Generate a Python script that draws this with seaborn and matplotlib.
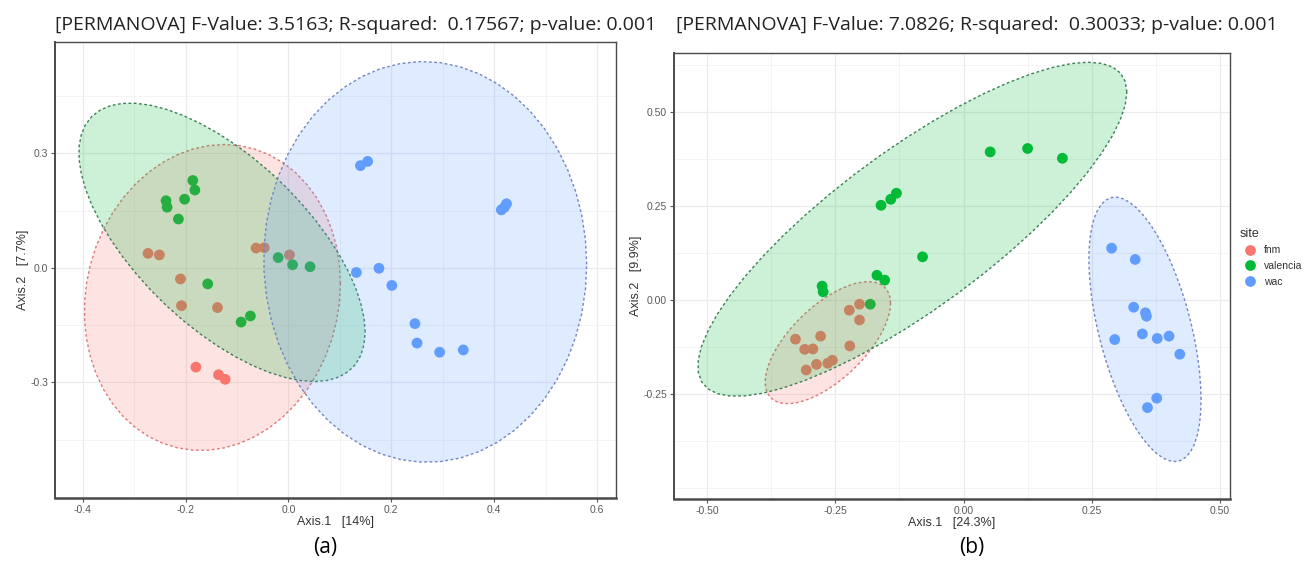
import numpy as np
import pandas as pd
import matplotlib
matplotlib.use("Agg")
import matplotlib.pyplot as plt
import seaborn as sns
from matplotlib.patches import Polygon
from matplotlib.ticker import MultipleLocator, FixedLocator, FormatStrFormatter

# ---- data ----
sites = ["fnm", "valencia", "wac"]
site_colors = ["#F8766D", "#00BA38", "#619CFF"]
edge_colors = ["#E0787A", "#3E7E58", "#7485C2"]

# panel (a)
a_fnm_x = [-0.273, -0.251, -0.210, -0.208, -0.138, -0.063, -0.047, 0.002, -0.180, -0.136, -0.123]
a_fnm_y = [0.038, 0.034, -0.029, -0.099, -0.104, 0.052, 0.053, 0.034, -0.260, -0.280, -0.292]
a_val_x = [-0.186, -0.182, -0.238, -0.236, -0.202, -0.214, -0.157, -0.092, -0.074, -0.020, 0.008, 0.042]
a_val_y = [0.229, 0.204, 0.176, 0.159, 0.180, 0.128, -0.042, -0.142, -0.126, 0.027, 0.008, 0.003]
a_wac_x = [0.140, 0.154, 0.414, 0.420, 0.424, 0.132, 0.176, 0.201, 0.246, 0.250, 0.294, 0.340]
a_wac_y = [0.268, 0.279, 0.152, 0.159, 0.168, -0.012, -0.001, -0.046, -0.146, -0.197, -0.221, -0.215]

# panel (b)
b_fnm_x = [-0.328, -0.310, -0.294, -0.279, -0.307, -0.287, -0.265, -0.256, -0.222, -0.223, -0.203, -0.203]
b_fnm_y = [-0.104, -0.131, -0.130, -0.096, -0.186, -0.171, -0.168, -0.160, -0.122, -0.027, -0.011, -0.053]
b_val_x = [0.052, 0.125, 0.193, -0.161, -0.142, -0.131, -0.080, -0.169, -0.154, -0.276, -0.274, -0.182]
b_val_y = [0.394, 0.403, 0.377, 0.252, 0.268, 0.284, 0.115, 0.066, 0.053, 0.037, 0.022, -0.011]
b_wac_x = [0.289, 0.335, 0.332, 0.355, 0.357, 0.349, 0.295, 0.378, 0.401, 0.422, 0.377, 0.359]
b_wac_y = [0.138, 0.108, -0.019, -0.034, -0.043, -0.090, -0.105, -0.102, -0.096, -0.144, -0.261, -0.286]

titles = ["[PERMANOVA] F-Value: 3.5163; R-squared:  0.17567; p-value: 0.001",
          "[PERMANOVA] F-Value: 7.0826; R-squared:  0.30033; p-value: 0.001"]
xlabels = ["Axis.1   [14%]", "Axis.1   [24.3%]"]
ylabels = ["Axis.2   [7.7%]", "Axis.2   [9.9%]"]
panel_tags = ["(a)", "(b)"]

a_xticks = [-0.4, -0.2, 0.0, 0.2, 0.4, 0.6]
a_yticks = [-0.3, 0.0, 0.3]
b_xticks = [-0.50, -0.25, 0.00, 0.25, 0.50]
b_yticks = [-0.25, 0.00, 0.25, 0.50]


def make_df(xs, ys):
    rows = []
    for s, x, y in zip(sites, xs, ys):
        rows.append(pd.DataFrame({"Axis.1": x, "Axis.2": y, "site": s}))
    return pd.concat(rows, ignore_index=True)


df_a = make_df([a_fnm_x, a_val_x, a_wac_x], [a_fnm_y, a_val_y, a_wac_y])
df_b = make_df([b_fnm_x, b_val_x, b_wac_x], [b_fnm_y, b_val_y, b_wac_y])


# ---- stat_ellipse(type = "norm", level = 0.95) like ggplot2 ----
def norm_ellipse(pts, level=0.95, segments=51):
    n = len(pts)
    center = pts.mean(axis=0)
    shape = np.cov(pts.T)
    dfd = n - 1
    qf = dfd / 2 * ((1 - level) ** (-2 / dfd) - 1)   # F(2, dfd) quantile
    radius = np.sqrt(2 * qf)
    ang = np.arange(segments + 1) * 2 * np.pi / segments
    circle = np.column_stack([np.cos(ang), np.sin(ang)])
    R = np.linalg.cholesky(shape).T
    return center + radius * circle @ R


plt.rcParams["axes.unicode_minus"] = False
sns.set_style("white")
plt.rcParams["font.family"] = ["Liberation Sans", "DejaVu Sans"]

fig = plt.figure(figsize=(13.06, 5.78), dpi=100)
ax_a = fig.add_axes([0.0421, 0.1384, 0.4296, 0.7890])
ax_b = fig.add_axes([0.5161, 0.1367, 0.4257, 0.7716])

palette = dict(zip(sites, site_colors))

setup = [
    (ax_a, df_a, (-0.454, 0.637), (-0.603, 0.592), a_xticks, a_yticks, 0.1, 0.15, "%.1f"),
    (ax_b, df_b, (-0.565, 0.520), (-0.529, 0.657), b_xticks, b_yticks, 0.125, 0.125, "%.2f"),
]

for i, (ax, df, xl, yl, xt, yt, xmin, ymin, fmt) in enumerate(setup):
    sns.scatterplot(data=df, x="Axis.1", y="Axis.2", hue="site", hue_order=sites,
                    palette=palette, s=60, linewidth=0, alpha=1, ax=ax,
                    legend=(i == 1), zorder=2)
    for s, fc, ec in zip(sites, site_colors, edge_colors):
        pts = df.loc[df["site"] == s, ["Axis.1", "Axis.2"]].to_numpy()
        poly = Polygon(norm_ellipse(pts), closed=True,
                       facecolor=matplotlib.colors.to_rgba(fc, 0.2),
                       edgecolor=ec, linestyle=(0, (2.0, 1.8)), linewidth=1.0, zorder=3)
        ax.add_patch(poly)

    ax.set_xlim(*xl)
    ax.set_ylim(*yl)
    ax.xaxis.set_major_locator(FixedLocator(xt))
    ax.yaxis.set_major_locator(FixedLocator(yt))
    ax.xaxis.set_minor_locator(MultipleLocator(xmin, offset=xmin if i == 1 else 0))
    ax.yaxis.set_minor_locator(MultipleLocator(ymin))
    ax.xaxis.set_major_formatter(FormatStrFormatter(fmt))
    ax.yaxis.set_major_formatter(FormatStrFormatter(fmt))
    ax.grid(which="major", color="#EBEBEB", linewidth=0.9, zorder=0)
    ax.grid(which="minor", color="#F2F2F2", linewidth=0.6, zorder=0)
    ax.set_axisbelow(True)
    ax.tick_params(which="major", length=3, width=0.8, color="#555555",
                   labelsize=7.5, labelcolor="#5A5A5A", pad=2, bottom=True, left=True)
    ax.tick_params(which="minor", length=0)
    for sp in ax.spines.values():
        sp.set_visible(True)
        sp.set_color("#4A4A4A")
        sp.set_linewidth(1.0)
    ax.spines["bottom"].set_linewidth(1.8)
    ax.spines["left"].set_linewidth(1.4)
    ax.set_xlabel(xlabels[i], fontsize=9, color="#333333", labelpad=1)
    ax.set_ylabel(ylabels[i], fontsize=9, color="#333333", labelpad=1)

# titles sit on one line above both panels
fig.text(55 / 1306, 1 - 25 / 578, titles[0], ha="left", va="center", fontsize=14,
         family=["Open Sans", "DejaVu Sans"], color="#222222")
fig.text(676 / 1306, 1 - 25 / 578, titles[1], ha="left", va="center", fontsize=14,
         family=["Open Sans", "DejaVu Sans"], color="#222222")

# legend for the site colours
sns.move_legend(ax_b, loc="upper left", bbox_to_anchor=(1.005, 0.625), frameon=False,
                title="site", fontsize=7.5, title_fontsize=9, handletextpad=0.3,
                labelspacing=0.55, markerscale=1.0, borderaxespad=0.3)
leg = ax_b.get_legend()
leg.get_title().set_color("#333333")
leg._legend_box.align = "left"
for t in leg.get_texts():
    t.set_color("#333333")

fig.text(325 / 1306, 1 - 547 / 578, panel_tags[0], ha="center", va="center",
         fontsize=15, family=["Open Sans", "DejaVu Sans"], color="black")
fig.text(972 / 1306, 1 - 547 / 578, panel_tags[1], ha="center", va="center",
         fontsize=15, family=["Open Sans", "DejaVu Sans"], color="black")

fig.savefig("out.png", dpi=100)
